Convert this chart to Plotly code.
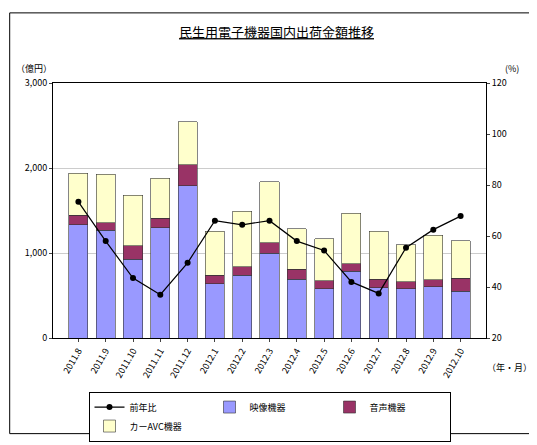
import plotly.graph_objects as go

months = ["2011.8", "2011.9", "2011.10", "2011.11", "2011.12", "2012.1", "2012.2", "2012.3",
          "2012.4", "2012.5", "2012.6", "2012.7", "2012.8", "2012.9", "2012.10"]
video = [1333, 1265, 929, 1299, 1792, 638, 739, 997, 694, 582, 784, 593, 582, 605, 549]
audio = [112, 90, 157, 112, 246, 101, 101, 123, 112, 90, 89, 101, 79, 78, 156]
car_avc = [492, 571, 594, 470, 504, 515, 649, 717, 482, 493, 594, 560, 436, 526, 437]
yoy = [73.4, 58, 43.5, 37, 49.5, 66, 64.4, 66, 58, 54.3, 42, 37.5, 55.4, 62.5, 67.8]

FONT = "Noto Sans CJK JP"

fig = go.Figure()
fig.add_trace(go.Bar(x=months, y=video, name="映像機器", legendrank=3,
                     marker=dict(color="#9999FF", line=dict(color="#333", width=0.6))))
fig.add_trace(go.Bar(x=months, y=audio, name="音声機器", legendrank=2,
                     marker=dict(color="#993366", line=dict(color="#333", width=0.6))))
fig.add_trace(go.Bar(x=months, y=car_avc, name="カーAVC機器", legendrank=1,
                     marker=dict(color="#FFFFCC", line=dict(color="#333", width=0.6))))
fig.add_trace(go.Scatter(x=months, y=yoy, name="前年比", yaxis="y2", mode="lines+markers", legendrank=4,
                         line=dict(color="black", width=1.2), marker=dict(color="black", size=6)))

fig.update_layout(
    width=537, height=445, barmode="stack", bargap=0.3,
    paper_bgcolor="white", plot_bgcolor="white",
    font=dict(family=FONT, size=9, color="black"),
    title=dict(text="<u>民生用電子機器国内出荷金額推移</u>", x=0.5, y=0.955, font=dict(size=13)),
    margin=dict(l=45, r=59, t=75, b=102),
    xaxis=dict(tickangle=-60, showline=True, linecolor="black", mirror=True, ticks="outside",
               ticklen=3, automargin=False),
    yaxis=dict(range=[0, 3000], dtick=1000, tickformat=",", showline=True, linecolor="black",
               gridcolor="#ccc", ticks="outside", ticklen=3, automargin=False),
    yaxis2=dict(range=[20, 120], dtick=20, overlaying="y", side="right", showgrid=False,
                showline=True, linecolor="black", ticks="outside", ticklen=3, automargin=False),
    legend=dict(orientation="h", x=0.5, xanchor="center", y=-0.21, yanchor="top",
                bordercolor="black", borderwidth=1, font=dict(size=9), entrywidth=75),
    shapes=[dict(type="rect", xref="paper", yref="paper", x0=-0.1, x1=1.13, y0=-0.375, y1=1.275,
                 line=dict(color="black", width=1))],
    annotations=[
        dict(text="（億円）", xref="paper", yref="paper", x=-0.09, y=1.09, showarrow=False, xanchor="left"),
        dict(text="(%)", xref="paper", yref="paper", x=1.08, y=1.09, showarrow=False),
        dict(text="（年・月）", xref="paper", yref="paper", x=1.11, y=-0.15, showarrow=False, xanchor="right"),
    ],
)
fig.write_html("out.html")
